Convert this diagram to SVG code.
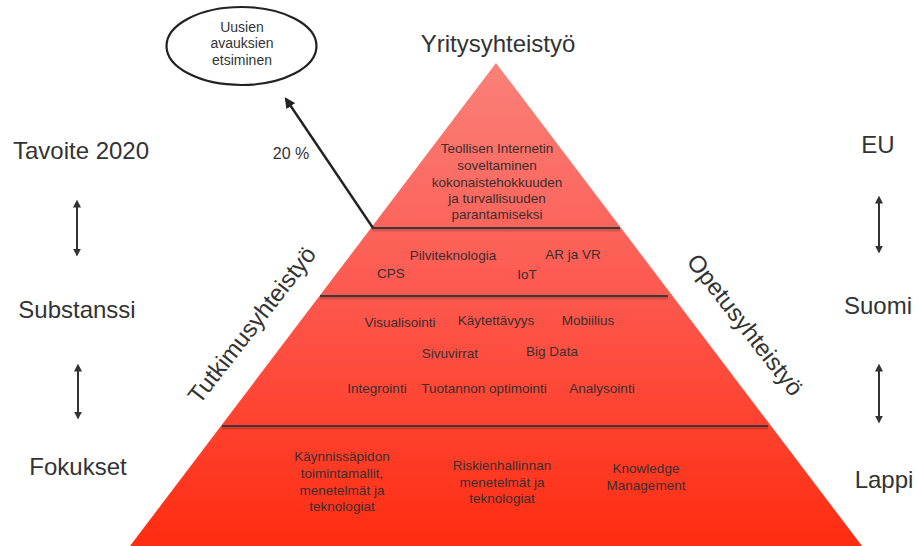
<svg xmlns="http://www.w3.org/2000/svg" width="917" height="546" viewBox="0 0 917 546">
  <style>
    .lbl { font-family: "Liberation Sans", Arial, sans-serif; fill: #333333; }
    .side { font-size: 24px; text-anchor: middle; }
    .pt { font-size: 13.5px; text-anchor: middle; fill: #3a2e2e; }
    .div { stroke: #3a3a3a; stroke-width: 2; }
    .divsh { stroke: #000000; stroke-opacity: 0.15; stroke-width: 3; }
    .dbl { stroke: #333333; stroke-width: 2; fill: none; marker-start: url(#headS); marker-end: url(#headE); }
  </style>
  <defs>
    <linearGradient id="pyrFill" gradientUnits="userSpaceOnUse" x1="0" y1="63" x2="0" y2="546">
      <stop offset="0" stop-color="#f98179"/>
      <stop offset="0.45" stop-color="#fd5b52"/>
      <stop offset="1" stop-color="#ff2c10"/>
    </linearGradient>
    <marker id="headE" viewBox="0 0 10 10" refX="8" refY="5" markerWidth="4" markerHeight="4" orient="auto">
      <path d="M0,0 L10,5 L0,10 z" fill="#333333"/>
    </marker>
    <marker id="headS" viewBox="0 0 10 10" refX="2" refY="5" markerWidth="4" markerHeight="4" orient="auto-start-reverse">
      <path d="M0,0 L10,5 L0,10 z" fill="#333333"/>
    </marker>
    <marker id="headA" viewBox="0 0 10 10" refX="8" refY="5" markerWidth="4.5" markerHeight="4.5" orient="auto">
      <path d="M0,0 L10,5 L0,10 z" fill="#222222"/>
    </marker>
  </defs>

  <!-- pyramid body -->
  <g id="pyramid">
    <polygon points="496,63 862,546 130,546" fill="url(#pyrFill)"/>
    <line class="divsh" x1="372" y1="230" x2="620" y2="230"/>
    <line class="divsh" x1="320" y1="298" x2="668" y2="298"/>
    <line class="divsh" x1="222" y1="428" x2="768" y2="428"/>
    <line class="div" x1="372" y1="228" x2="620" y2="228"/>
    <line class="div" x1="320" y1="296" x2="668" y2="296"/>
    <line class="div" x1="222" y1="426" x2="768" y2="426"/>
  </g>

  <!-- top level -->
  <g id="level-top">
    <text class="lbl pt" x="497" y="153">Teollisen Internetin</text>
    <text class="lbl pt" x="497" y="170">soveltaminen</text>
    <text class="lbl pt" x="497" y="187">kokonaistehokkuuden</text>
    <text class="lbl pt" x="497" y="203">ja turvallisuuden</text>
    <text class="lbl pt" x="497" y="219">parantamiseksi</text>
  </g>

  <!-- technologies -->
  <g id="level-tech">
    <text class="lbl pt" x="453" y="260">Pilviteknologia</text>
    <text class="lbl pt" x="573" y="259">AR ja VR</text>
    <text class="lbl pt" x="391" y="278">CPS</text>
    <text class="lbl pt" x="527" y="279">IoT</text>
  </g>

  <!-- themes -->
  <g id="level-themes">
    <text class="lbl pt" x="400" y="327">Visualisointi</text>
    <text class="lbl pt" x="496" y="325">Käytettävyys</text>
    <text class="lbl pt" x="588" y="325">Mobiilius</text>
    <text class="lbl pt" x="450" y="358">Sivuvirrat</text>
    <text class="lbl pt" x="552" y="356">Big Data</text>
    <text class="lbl pt" x="377" y="393">Integrointi</text>
    <text class="lbl pt" x="484" y="393">Tuotannon optimointi</text>
    <text class="lbl pt" x="602" y="393">Analysointi</text>
  </g>

  <!-- focus areas -->
  <g id="level-focus">
    <text class="lbl pt" x="342" y="461">Käynnissäpidon</text>
    <text class="lbl pt" x="342" y="478">toimintamallit,</text>
    <text class="lbl pt" x="342" y="495">menetelmät ja</text>
    <text class="lbl pt" x="342" y="511">teknologiat</text>
    <text class="lbl pt" x="502" y="470">Riskienhallinnan</text>
    <text class="lbl pt" x="502" y="487">menetelmät ja</text>
    <text class="lbl pt" x="502" y="503">teknologiat</text>
    <text class="lbl pt" x="646" y="473">Knowledge</text>
    <text class="lbl pt" x="646" y="490">Management</text>
  </g>

  <!-- edge labels -->
  <g id="edge-labels">
    <text class="lbl side" x="498" y="52">Yritysyhteistyö</text>
    <text class="lbl side" transform="translate(252,325) rotate(-52)" x="0" y="8">Tutkimusyhteistyö</text>
    <text class="lbl side" transform="translate(745,325) rotate(52)" x="0" y="8">Opetusyhteistyö</text>
  </g>

  <!-- new openings -->
  <g id="openings">
    <ellipse cx="241.5" cy="46" rx="75" ry="39" fill="#ffffff" stroke="#222222" stroke-width="2.2"/>
    <text class="lbl" x="242" y="32" font-size="14" text-anchor="middle">Uusien</text>
    <text class="lbl" x="242" y="48" font-size="14" text-anchor="middle">avauksien</text>
    <text class="lbl" x="242" y="65" font-size="14" text-anchor="middle">etsiminen</text>
  </g>

  <!-- left scale -->
  <g id="scale-left">
    <text class="lbl side" x="81" y="159">Tavoite 2020</text>
    <text class="lbl side" x="77" y="318">Substanssi</text>
    <text class="lbl side" x="78" y="475">Fokukset</text>
  </g>

  <!-- right scale -->
  <g id="scale-right">
    <text class="lbl side" x="878" y="153">EU</text>
    <text class="lbl side" x="878" y="314">Suomi</text>
    <text class="lbl side" x="884" y="488">Lappi</text>
  </g>

  <!-- connectors -->
  <g id="connectors">
    <line x1="373" y1="228" x2="286" y2="99" stroke="#222222" stroke-width="2.4" marker-end="url(#headA)"/>
    <text class="lbl" x="291" y="159" font-size="16" text-anchor="middle">20 %</text>
    <line class="dbl" x1="77" y1="206" x2="77" y2="255"/>
    <line class="dbl" x1="78" y1="370" x2="78" y2="418"/>
    <line class="dbl" x1="879" y1="202" x2="879" y2="252"/>
    <line class="dbl" x1="879" y1="370" x2="879" y2="422"/>
  </g>
</svg>
